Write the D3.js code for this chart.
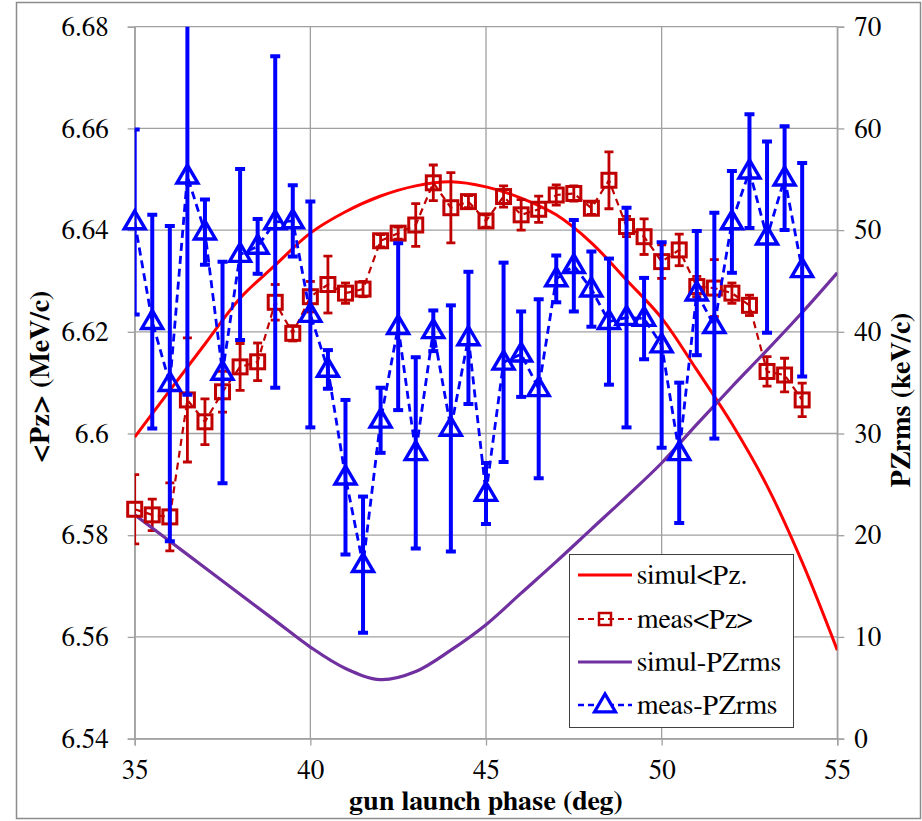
<!DOCTYPE html>
<html>
<head>
<meta charset="utf-8">
<script src="https://cdn.jsdelivr.net/npm/d3@7"></script>
</head>
<body style="margin:0">
<svg id="chart" width="922" height="821"></svg>
<script>
// Gun launch phase scan: mean momentum and momentum spread, simulation vs measurement

const phaseTicks = [35, 40, 45, 50, 55];
const pzTicks = [6.54, 6.56, 6.58, 6.60, 6.62, 6.64, 6.66, 6.68];
const pzTickLabels = ["6.54", "6.56", "6.58", "6.6", "6.62", "6.64", "6.66", "6.68"];
const rmsTicks = [0, 10, 20, 30, 40, 50, 60, 70];

// simulation, <Pz> in MeV/c
const simPhase = [35, 36, 37, 38, 39, 40, 41, 42, 43, 44, 45, 46, 47, 48, 49, 50, 51, 52, 53, 54, 55];
const simPz    = [6.5993, 6.6085, 6.6176, 6.6266, 6.6331, 6.6394, 6.6436, 6.6467, 6.6487, 6.6495, 6.6485,
                  6.6463, 6.6430, 6.6375, 6.6302, 6.6227, 6.6125, 6.6019, 6.5897, 6.5747, 6.5574];
// simulation, Pz rms in keV/c
const simRms   = [22.0, 19.4, 16.8, 14.2, 11.6, 9.0, 6.9, 5.8, 6.6, 8.7, 11.2, 14.3, 17.4, 20.6, 23.8,
                  27.1, 30.9, 34.6, 38.2, 41.9, 45.8];

// measurement phases (deg)
const measPhase = [35, 35.5, 36, 36.5, 37, 37.5, 38, 38.5, 39, 39.5, 40, 40.5, 41, 41.5, 42, 42.5, 43, 43.5,
                   44, 44.5, 45, 45.5, 46, 46.5, 47, 47.5, 48, 48.5, 49, 49.5, 50, 50.5, 51, 51.5, 52,
                   52.5, 53, 53.5, 54];
// measured <Pz> (MeV/c) and its error
const measPz = [6.5851, 6.5840, 6.5836, 6.6066, 6.6023, 6.6082, 6.6131, 6.6141, 6.6258, 6.6197, 6.6269,
                6.6293, 6.6276, 6.6284, 6.6379, 6.6394, 6.6410, 6.6493, 6.6444, 6.6456, 6.6418, 6.6466,
                6.6430, 6.6441, 6.6469, 6.6472, 6.6443, 6.6498, 6.6407, 6.6387, 6.6338, 6.6361, 6.6289,
                6.6286, 6.6276, 6.6252, 6.6122, 6.6115, 6.6066];
const measPzErr = [0.0068, 0.0031, 0.0067, 0.0122, 0.0045, 0.0040, 0.0046, 0.0037, 0.0035, 0.0015, 0.0030,
                   0.0056, 0.0020, 0.0015, 0.0012, 0.0012, 0.0042, 0.0035, 0.0069, 0.0012, 0.0012, 0.0021,
                   0.0030, 0.0026, 0.0020, 0.0015, 0.0012, 0.0056, 0.0020, 0.0035, 0.0033, 0.0031, 0.0020,
                   0.0056, 0.0020, 0.0020, 0.0029, 0.0033, 0.0033];
// measured Pz rms (keV/c) and its error
const measRms = [50.8, 41.0, 34.9, 55.3, 49.8, 36.0, 47.6, 48.4, 50.8, 50.9, 41.7, 36.3, 25.7, 17.1, 31.3,
                 40.5, 28.1, 40.1, 30.5, 39.4, 24.1, 37.0, 37.8, 34.4, 45.2, 46.5, 44.2, 41.0, 41.4, 41.3,
                 38.7, 28.1, 43.8, 40.6, 50.8, 55.8, 49.3, 55.1, 46.1];
const measRmsErr = [9.1, 10.5, 15.5, 21.5, 3.2, 10.9, 8.4, 2.7, 16.3, 3.5, 11.1, 1.9, 7.6, 6.7, 3.2,
                    8.2, 9.4, 2.0, 12.1, 6.5, 3.0, 9.8, 4.2, 8.8, 2.3, 4.5, 3.7, 6.2, 10.8, 4.0,
                    10.1, 6.9, 6.1, 11.1, 5.0, 5.6, 9.4, 5.1, 10.5];

const seriesNames = ["simul<Pz.", "meas<Pz>", "simul-PZrms", "meas-PZrms"];

const C = {
  simPz: "#ff0000",
  measPz: "#c00000",
  simRms: "#7030a0",
  measRms: "#0000ff",
  grid: "#a0a0a0"
};
const SERIF = "FreeSerif";

const svg = d3.select("#chart");
const plot = { left: 134.7, right: 837.3, top: 26.7, bottom: 738.6 };

const x = d3.scaleLinear().domain([35, 55]).range([plot.left, plot.right]);
const yL = d3.scaleLinear().domain([6.54, 6.68]).range([plot.bottom, plot.top]);
const yR = d3.scaleLinear().domain([0, 70]).range([plot.bottom, plot.top]);

// white page and outer chart frame
svg.append("rect").attr("width", 922).attr("height", 821).attr("fill", "#fff");
svg.append("rect")
  .attr("x", 16.5).attr("y", 2.5).attr("width", 904).attr("height", 816)
  .attr("fill", "none").attr("stroke", "#8c8c8c").attr("stroke-width", 1.5);

// gridlines
const grid = svg.append("g");
grid.selectAll(".hg").data(pzTicks).join("line")
  .attr("x1", plot.left).attr("x2", plot.right)
  .attr("y1", d => yL(d)).attr("y2", d => yL(d))
  .attr("stroke", C.grid).attr("stroke-width", 1.3);
grid.selectAll(".vg").data(phaseTicks).join("line")
  .attr("x1", d => x(d)).attr("x2", d => x(d))
  .attr("y1", plot.top).attr("y2", plot.bottom)
  .attr("stroke", C.grid).attr("stroke-width", 1.3);

// axes
function styleAxis(g) {
  g.attr("font-family", null).attr("font-size", null);
  g.select(".domain").attr("stroke", C.grid).attr("stroke-width", 1.3);
  g.selectAll(".tick line").attr("stroke", C.grid).attr("stroke-width", 1.3);
  g.selectAll(".tick text").style("font-family", SERIF).style("font-size", "27px").attr("fill", "#000");
}

svg.append("g")
  .attr("transform", `translate(0,${plot.bottom})`)
  .call(d3.axisBottom(x).tickValues(phaseTicks).tickFormat(d3.format("d")).tickSize(7).tickPadding(14))
  .call(styleAxis);

svg.append("g")
  .attr("transform", `translate(${plot.left},0)`)
  .call(d3.axisLeft(yL).tickValues(pzTicks).tickFormat((d, i) => pzTickLabels[i]).tickSize(7).tickPadding(19))
  .call(styleAxis);

svg.append("g")
  .attr("transform", `translate(${plot.right},0)`)
  .call(d3.axisRight(yR).tickValues(rmsTicks).tickFormat(d3.format("d")).tickSize(7).tickPadding(10))
  .call(styleAxis);

// axis titles
svg.append("text")
  .attr("x", 486).attr("y", 810).attr("text-anchor", "middle")
  .style("font-family", SERIF)
  .style("font-size", "28px").style("font-weight", "bold")
  .text("gun launch phase (deg)");

svg.append("text")
  .attr("transform", "translate(49,377) rotate(-90)")
  .attr("text-anchor", "middle")
  .style("font-family", SERIF)
  .style("font-size", "28px").style("font-weight", "bold")
  .text("<Pz> (MeV/c)");

svg.append("text")
  .attr("transform", "translate(910,400) rotate(-90)")
  .attr("text-anchor", "middle")
  .style("font-family", SERIF)
  .style("font-size", "28px").style("font-weight", "bold")
  .text("PZrms (keV/c)");

// plotting area clip (lines and error bars; markers stay whole)
svg.append("clipPath").attr("id", "plotClip")
  .append("rect")
  .attr("x", plot.left).attr("y", plot.top)
  .attr("width", plot.right - plot.left).attr("height", plot.bottom - plot.top);

const layer = svg.append("g").attr("clip-path", "url(#plotClip)");

// simulated <Pz>
const simPzData = simPhase.map((p, i) => ({ p, v: simPz[i] }));
layer.append("path")
  .datum(simPzData)
  .attr("fill", "none").attr("stroke", C.simPz).attr("stroke-width", 3)
  .attr("d", d3.line().x(d => x(d.p)).y(d => yL(d.v)).curve(d3.curveCatmullRom.alpha(0.5)));

// measured <Pz>
const measPzData = measPhase.map((p, i) => ({ p, v: measPz[i], e: measPzErr[i] }));
layer.append("path")
  .datum(measPzData)
  .attr("fill", "none").attr("stroke", C.measPz).attr("stroke-width", 2.2)
  .attr("stroke-dasharray", "7,5")
  .attr("d", d3.line().x(d => x(d.p)).y(d => yL(d.v)));

const pzErr = layer.append("g").attr("stroke", C.measPz).attr("stroke-width", 2.8);
pzErr.selectAll(".bar").data(measPzData).join("line")
  .attr("x1", d => x(d.p)).attr("x2", d => x(d.p))
  .attr("y1", d => yL(d.v - d.e)).attr("y2", d => yL(d.v + d.e));
pzErr.selectAll(".capT").data(measPzData).join("line")
  .attr("x1", d => x(d.p) - 4.5).attr("x2", d => x(d.p) + 4.5)
  .attr("y1", d => yL(d.v + d.e)).attr("y2", d => yL(d.v + d.e));
pzErr.selectAll(".capB").data(measPzData).join("line")
  .attr("x1", d => x(d.p) - 4.5).attr("x2", d => x(d.p) + 4.5)
  .attr("y1", d => yL(d.v - d.e)).attr("y2", d => yL(d.v - d.e));

const sq = 14;
svg.append("g").selectAll("rect").data(measPzData).join("rect")
  .attr("x", d => x(d.p) - sq / 2).attr("y", d => yL(d.v) - sq / 2)
  .attr("width", sq).attr("height", sq)
  .attr("fill", "none").attr("stroke", C.measPz).attr("stroke-width", 3);

// simulated Pz rms
const simRmsData = simPhase.map((p, i) => ({ p, v: simRms[i] }));
layer.append("path")
  .datum(simRmsData)
  .attr("fill", "none").attr("stroke", C.simRms).attr("stroke-width", 3.2)
  .attr("d", d3.line().x(d => x(d.p)).y(d => yR(d.v)).curve(d3.curveCatmullRom.alpha(0.5)));

// measured Pz rms
const measRmsData = measPhase.map((p, i) => ({ p, v: measRms[i], e: measRmsErr[i] }));
const rmsLayer = svg.append("g").attr("clip-path", "url(#plotClip)");
rmsLayer.append("path")
  .datum(measRmsData)
  .attr("fill", "none").attr("stroke", C.measRms).attr("stroke-width", 2.8)
  .attr("stroke-dasharray", "8,5")
  .attr("d", d3.line().x(d => x(d.p)).y(d => yR(d.v)));

const rmsErr = rmsLayer.append("g").attr("stroke", C.measRms).attr("stroke-width", 4);
rmsErr.selectAll(".bar").data(measRmsData).join("line")
  .attr("x1", d => x(d.p)).attr("x2", d => x(d.p))
  .attr("y1", d => yR(d.v - d.e)).attr("y2", d => yR(d.v + d.e));
rmsErr.selectAll(".capT").data(measRmsData).join("line")
  .attr("x1", d => x(d.p) - 5).attr("x2", d => x(d.p) + 5)
  .attr("y1", d => yR(d.v + d.e)).attr("y2", d => yR(d.v + d.e));
rmsErr.selectAll(".capB").data(measRmsData).join("line")
  .attr("x1", d => x(d.p) - 5).attr("x2", d => x(d.p) + 5)
  .attr("y1", d => yR(d.v - d.e)).attr("y2", d => yR(d.v - d.e));

function triPath(cx, cy) {
  const w = 21, h = 18;
  return `M${cx},${cy - h * 0.62} L${cx + w / 2},${cy + h * 0.38} L${cx - w / 2},${cy + h * 0.38} Z`;
}
svg.append("g").selectAll("path").data(measRmsData).join("path")
  .attr("d", d => triPath(x(d.p), yR(d.v)))
  .attr("fill", "none").attr("stroke", C.measRms).attr("stroke-width", 3.4)
  .attr("stroke-linejoin", "miter");

// legend
const lg = svg.append("g");
lg.append("rect")
  .attr("x", 569.5).attr("y", 554.5).attr("width", 224).attr("height", 173)
  .attr("fill", "#fff").attr("stroke", "#404040").attr("stroke-width", 1);

const rowY = [575, 619, 662, 705];
const lx1 = 578, lx2 = 632, lmid = 605;

lg.append("line").attr("x1", lx1).attr("x2", lx2).attr("y1", rowY[0]).attr("y2", rowY[0])
  .attr("stroke", C.simPz).attr("stroke-width", 3);

lg.append("line").attr("x1", lx1).attr("x2", lx2).attr("y1", rowY[1]).attr("y2", rowY[1])
  .attr("stroke", C.measPz).attr("stroke-width", 2.2).attr("stroke-dasharray", "6,4");
lg.append("rect").attr("x", lmid - 6).attr("y", rowY[1] - 6).attr("width", 12).attr("height", 12)
  .attr("fill", "none").attr("stroke", C.measPz).attr("stroke-width", 2.5);

lg.append("line").attr("x1", lx1).attr("x2", lx2).attr("y1", rowY[2]).attr("y2", rowY[2])
  .attr("stroke", C.simRms).attr("stroke-width", 3.2);

lg.append("line").attr("x1", lx1).attr("x2", lx2).attr("y1", rowY[3]).attr("y2", rowY[3])
  .attr("stroke", C.measRms).attr("stroke-width", 2.6).attr("stroke-dasharray", "6,4");
lg.append("path").attr("d", triPath(lmid, rowY[3]))
  .attr("fill", "#fff").attr("stroke", C.measRms).attr("stroke-width", 3.2);

lg.selectAll(".lt").data(seriesNames).join("text")
  .attr("x", 637).attr("y", (d, i) => rowY[i] + 9)
  .style("font-size", "28px")
  .style("font-family", SERIF)
  .attr("fill", "#000")
  .text(d => d);
</script>
</body>
</html>
